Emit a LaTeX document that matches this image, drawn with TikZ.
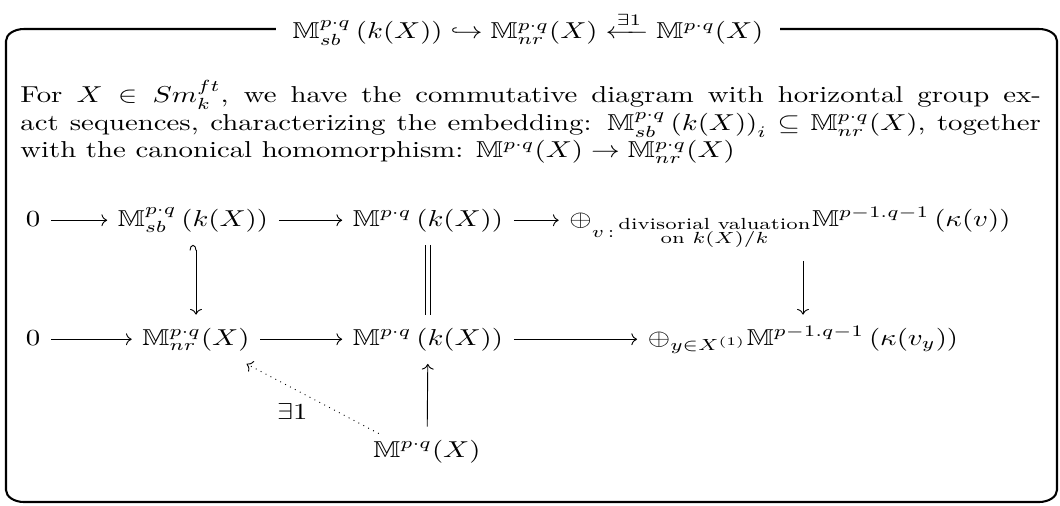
\documentclass[tikz,border=0pt]{standalone}
\usepackage{amsmath,amssymb}
\usetikzlibrary{arrows.meta,positioning}
\newcommand{\hstr}[1]{\scalebox{1.25}[1]{#1}}

\begin{document}
\begin{tikzpicture}[
  x=0.01528cm, y=-0.01528cm,
  outerframe/.style={draw, line width=0.9pt},
  boxtitle/.style={fill=white, inner xsep=7pt, inner ysep=2pt},
  cell/.style={anchor=base, inner xsep=4.5pt, inner ysep=3pt, text height=10pt, text depth=5pt},
  cdarr/.style={-{Computer Modern Rightarrow}, line width=0.4pt},
  hookarr/.style={{Hooks[left, length=2.4pt, width=5.6pt]}-{Computer Modern Rightarrow}, line width=0.4pt},
  eqline/.style={double, double distance=1.6pt, line width=0.4pt},
]
  \useasboundingbox (0,0) rectangle (1060,505);

  % Frame and title
  \draw[outerframe] (6,41) arc[start angle=180, end angle=270, x radius=18, y radius=12]
    -- (1039,29) arc[start angle=270, end angle=360, x radius=18, y radius=12]
    -- (1057,490) arc[start angle=0, end angle=90, x radius=18, y radius=12]
    -- (24,502) arc[start angle=90, end angle=180, x radius=18, y radius=12] -- cycle;
  \node[boxtitle] (ttl) at (528,29)
    {\hstr{$\mathbb{M}^{p\cdot q}_{sb}\left(k(X)\right) \hookrightarrow \mathbb{M}^{p\cdot q}_{nr}(X) \xleftarrow{\exists 1} \mathbb{M}^{p\cdot q}(X)$}};

  % Statement
  \node[anchor=north west, inner sep=0pt] (txt) at (20,80)
    {\hstr{\parbox{12.47cm}{For $X \in Sm_k^{ft}$, we have the commutative diagram with horizontal group ex-\linebreak act sequences, characterizing the embedding: $\mathbb{M}^{p\cdot q}_{sb}\left(k(X)\right)_i \subseteq \mathbb{M}^{p\cdot q}_{nr}(X)$, together\linebreak with the canonical homomorphism: $\mathbb{M}^{p\cdot q}(X) \to \mathbb{M}^{p\cdot q}_{nr}(X)$}}};

  % Upper row
  \node[cell] (z1) at (33,226) {\hstr{$0$}};
  \node[cell] (sb) at (193,226) {\hstr{$\mathbb{M}^{p\cdot q}_{sb}\left(k(X)\right)$}};
  \node[cell] (mk1) at (428,226) {\hstr{$\mathbb{M}^{p\cdot q}\left(k(X)\right)$}};
  \node[cell, text depth=12pt] (sumv) at (790,226)
    {\hstr{$\oplus_{v\,:\,\substack{\text{divisorial valuation}\\ \text{on } k(X)/k}}\mathbb{M}^{p-1.q-1}\left(\kappa(v)\right)$}};

  % Lower row
  \node[cell] (z2) at (33,345) {\hstr{$0$}};
  \node[cell] (nr) at (196,345) {\hstr{$\mathbb{M}^{p\cdot q}_{nr}(X)$}};
  \node[cell] (mk2) at (428,345) {\hstr{$\mathbb{M}^{p\cdot q}\left(k(X)\right)$}};
  \node[cell] (sumy) at (803,345) {\hstr{$\oplus_{y\in X^{(1)}}\mathbb{M}^{p-1.q-1}\left(\kappa(v_y)\right)$}};

  % Bottom
  \node[cell] (mx) at (427,457) {\hstr{$\mathbb{M}^{p\cdot q}(X)$}};

  \draw[cdarr] (z1) -- (sb);
  \draw[cdarr] (sb) -- (mk1);
  \draw[cdarr] (mk1.east) -- (mk1.east -| sumv.west);
  \draw[cdarr] (z2) -- (nr);
  \draw[cdarr] (nr) -- (mk2);
  \draw[cdarr] (mk2) -- (sumy);

  \draw[hookarr] (sb.south -| nr.north) -- (nr);
  \draw[eqline] (mk1) -- (mk2);
  \draw[cdarr] (sumv.south -| sumy.north) -- (sumy);
  \draw[cdarr] (mx) -- (mk2);
  \draw[cdarr, dotted] ([xshift=7pt, yshift=-3pt]mx.north west) -- ([xshift=-6pt]nr.south east)
    node[midway, below left, inner sep=2pt] {\hstr{$\exists 1$}};
\end{tikzpicture}
\end{document}
